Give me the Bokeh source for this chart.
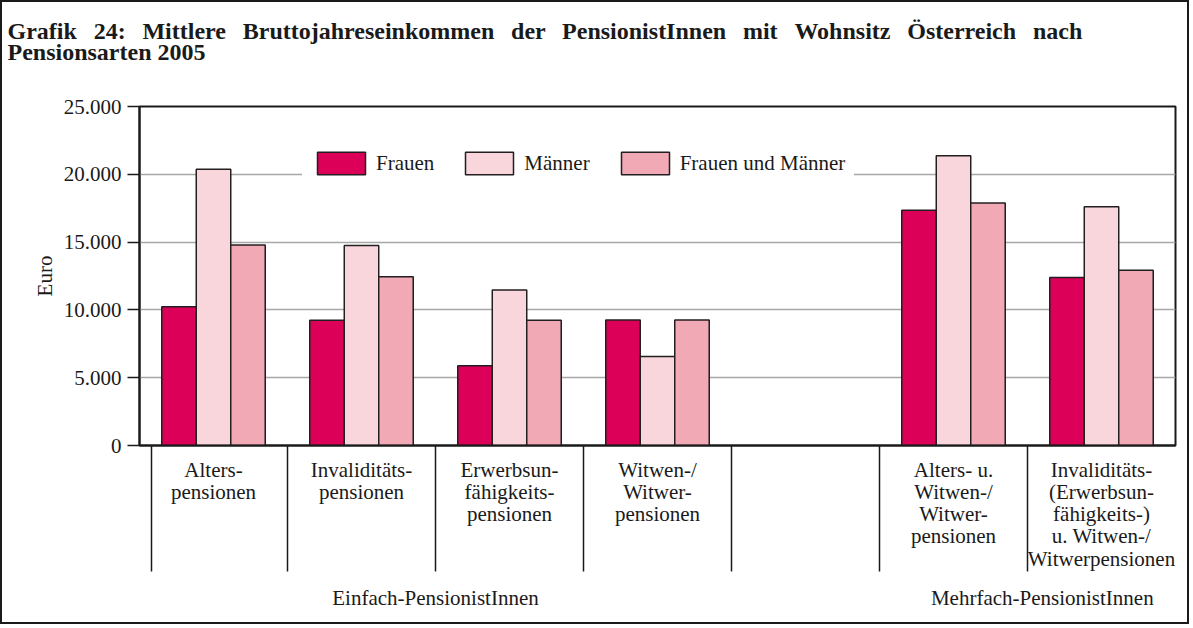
from bokeh.plotting import figure
from bokeh.models import Range1d, FixedTicker, LinearAxis, ColumnDataSource, Title
from bokeh.layouts import column
from bokeh.transform import dodge
from bokeh.embed import file_html
from bokeh.resources import INLINE

# ---- data ----
categories = ["Alters-\npensionen", "Invaliditäts-\npensionen",
              "Erwerbsun-\nfähigkeits-\npensionen", "Witwen-/\nWitwer-\npensionen",
              "",
              "Alters- u.\nWitwen-/\nWitwer-\npensionen",
              "Invaliditäts-\n(Erwerbsun-\nfähigkeits-)\nu. Witwen-/\nWitwerpensionen"]
frauen = [10230, 9240, 5880, 9260, None, 17340, 12390]
maenner = [20370, 14750, 11460, 6560, None, 21360, 17610]
beide = [14790, 12440, 9240, 9260, None, 17880, 12930]
series_names = ["Frauen", "Männer", "Frauen und Männer"]
groups = ["Einfach-PensionistInnen", "Mehrfach-PensionistInnen"]
group_pos = [2.0, 6.1]
y_ticks = [0, 5000, 10000, 15000, 20000, 25000]
y_labels = ["0", "5.000", "10.000", "15.000", "20.000", "25.000"]
title_line1 = "Grafik 24: Mittlere Bruttojahreseinkommen der PensionistInnen mit Wohnsitz Österreich nach"
title_line2 = "Pensionsarten 2005"

colors = ["#DC0058", "#F9D5DC", "#F0A9B5"]
FONT = "Liberation Serif"
INK = "#1a1a1a"

# first title line is justified in the original: slightly widened word gaps
gap = " \u00a0\u2009"
line1_text = gap.join(title_line1.split(" "))

idx = [i for i, c in enumerate(categories) if c]
centers = [i + 0.5 for i in idx]
src = ColumnDataSource(dict(
    x=centers,
    f=[frauen[i] for i in idx],
    m=[maenner[i] for i in idx],
    b=[beide[i] for i in idx],
))

p = figure(width=1185, height=620, output_backend="svg", toolbar_location=None,
           x_range=Range1d(0, len(categories)), y_range=Range1d(0, 25000),
           min_border_left=137, min_border_right=12, min_border_top=104,
           min_border_bottom=177)
p.background_fill_color = "white"
p.border_fill_color = "white"
p.outline_line_color = INK
p.outline_line_width = 2

bw = 0.233
for field, off, col, name in zip(["f", "m", "b"], [-bw, 0, bw], colors, series_names):
    p.vbar(x=dodge("x", off, range=p.x_range), top=field, width=bw, bottom=0, source=src,
           fill_color=col, line_color="#231F20", line_width=1.5, legend_label=name)

# grid
p.xgrid.visible = False
p.ygrid.ticker = FixedTicker(ticks=y_ticks)
p.ygrid.grid_line_color = "#A8A8A8"
p.ygrid.grid_line_width = 1.5

# y axis
ya = p.yaxis[0]
ya.ticker = FixedTicker(ticks=y_ticks)
ya.major_label_overrides = {t: l for t, l in zip(y_ticks, y_labels)}
ya.major_tick_out = 12
ya.major_tick_in = 0
ya.minor_tick_line_color = None
ya.axis_line_width = 2
ya.axis_line_color = INK
ya.major_tick_line_width = 1.5
ya.major_tick_line_color = INK
ya.major_label_text_font = FONT
ya.major_label_text_font_size = "21px"
ya.major_label_text_color = INK
ya.major_label_standoff = 6
ya.axis_label = "Euro"
ya.axis_label_text_font = FONT
ya.axis_label_text_font_size = "21px"
ya.axis_label_text_font_style = "normal"
ya.axis_label_text_color = INK
ya.axis_label_standoff = 4

# x axis: category labels (major) and dividers (minor)
dividers = [0.08] + [float(i) for i in range(1, len(categories))]
xa = p.xaxis[0]
xa.ticker = FixedTicker(ticks=centers, minor_ticks=dividers)
xa.major_label_overrides = {c: categories[i] for c, i in zip(centers, idx)}
xa.major_tick_out = 0
xa.major_tick_in = 0
xa.minor_tick_out = 126
xa.minor_tick_in = 0
xa.minor_tick_line_width = 1.5
xa.minor_tick_line_color = INK
xa.axis_line_width = 2
xa.axis_line_color = INK
xa.major_label_text_font = FONT
xa.major_label_text_font_size = "21px"
xa.major_label_text_color = INK
xa.major_label_text_line_height = 0.93
xa.major_label_standoff = -114

ax2 = LinearAxis(ticker=FixedTicker(ticks=group_pos),
                 major_label_overrides={g: t for g, t in zip(group_pos, groups)})
ax2.axis_line_color = None
ax2.major_tick_line_color = None
ax2.minor_tick_line_color = None
ax2.major_label_text_font = FONT
ax2.major_label_text_font_size = "21px"
ax2.major_label_text_color = INK
ax2.major_label_standoff = 6
p.add_layout(ax2, "below")

# title (two lines) with a tiny spacer next to the frame
def style_title(t, standoff, size="24px"):
    t.text_font = FONT
    t.text_font_size = size
    t.text_font_style = "bold"
    t.text_color = INK
    t.align = "left"
    t.offset = -132
    t.standoff = standoff

spacer = Title(text=" ")
style_title(spacer, 39, size="1px")
p.add_layout(spacer, "above")

t2 = Title(text=title_line2)
style_title(t2, 0)
p.add_layout(t2, "above")

p.title.text = line1_text
style_title(p.title, -14)

# legend
lg = p.legend[0]
lg.orientation = "horizontal"
lg.location = (163, 259)
lg.margin = 0
lg.padding = 9
lg.glyph_width = 60
lg.glyph_height = 28
lg.label_standoff = 5
lg.spacing = 25
lg.label_text_font = FONT
lg.label_text_font_size = "21px"
lg.label_text_color = INK
lg.border_line_alpha = 0
lg.background_fill_color = "white"
lg.background_fill_alpha = 1.0

layout = column(p, styles={"border": "2px solid #1a1a1a"})

open("out.html", "w").write(file_html(layout, INLINE))
